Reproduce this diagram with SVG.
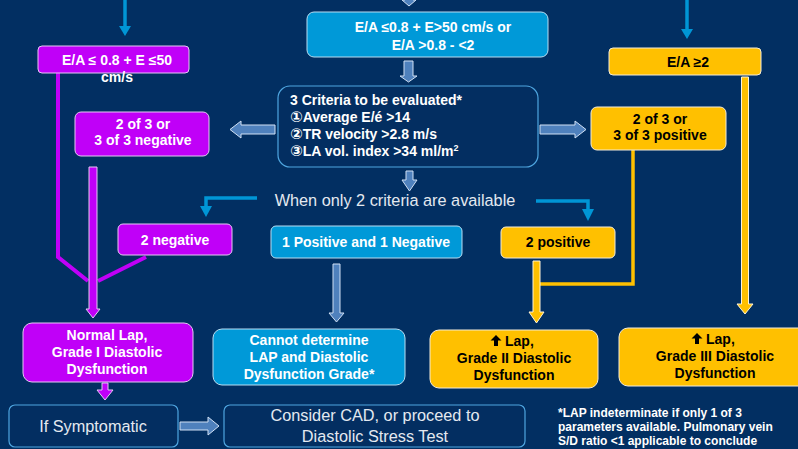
<svg xmlns="http://www.w3.org/2000/svg" width="798" height="449" viewBox="0 0 798 449">
<style>
text{font-family:"Liberation Sans","DejaVu Sans",Arial,sans-serif;}
.b{font-weight:bold;font-size:14px;}
.w{fill:#ffffff;}
.k{fill:#000000;}
.c{text-anchor:middle;}
.cn{font-family:"DejaVu Sans",sans-serif;font-size:15px;font-weight:bold;}
.pur{fill:#C000F8;stroke:#E6C8F4;stroke-width:1;}
.yel{fill:#FFC000;stroke:#F4ECD8;stroke-width:1;}
.blu{fill:#0099D8;stroke:#B8DDF2;stroke-width:1;}
.nav{fill:#032E61;stroke:#4FA6E0;stroke-width:1.2;}
.steel{fill:#4F81BD;stroke:#D0E0F4;stroke-width:1;}
.parr{fill:#C000F8;stroke:#E6C8F4;stroke-width:1;}
.yarr{fill:#FFC000;stroke:#FFF4D8;stroke-width:1;}
.pl{fill:none;stroke:#C000F8;stroke-width:4;}
.yl{fill:none;stroke:#FFC000;stroke-width:3.5;}
.bl{fill:none;stroke:#0096D6;stroke-width:3.5;}
.bh{fill:#0096D6;}
.lt{fill:#E4E9F0;font-size:16.3px;}
.fn{fill:#ffffff;font-weight:bold;font-size:12px;}
</style>
<rect x="0" y="0" width="798" height="449" fill="#022F62"/>

<g id="connectors">
  <line class="bl" x1="125" y1="0" x2="125" y2="27"/>
  <polygon class="bh" points="119,26 131,26 125,36"/>
  <line class="bl" x1="687" y1="0" x2="687" y2="30"/>
  <polygon class="bh" points="681,29 693,29 687,39"/>
  <polygon class="steel" points="405,-4 413,-4 413,0 416,0 409,6 402,0 405,0"/>
  <polygon class="steel" points="404,61 413,61 413,76 417,76 408.5,82 400,76 404,76"/>
  <polygon class="steel" points="275,125 241,125 241,121 230,129.5 241,138 241,134 275,134"/>
  <polygon class="steel" points="540,125 575,125 575,121 586,129.5 575,138 575,134 540,134"/>
  <polygon class="steel" points="406,171 413,171 413,180 417,180 409.5,191 402,180 406,180"/>
  <polyline class="bl" points="257,198 206,198 206,208"/>
  <polygon class="bh" points="200,206 212,206 206,217"/>
  <polyline class="bl" points="536,201 588,201 588,210"/>
  <polygon class="bh" points="582,209 594,209 588,221"/>
  <polyline class="pl" points="58,73 58,257 88,281"/>
  <line class="pl" x1="146" y1="257" x2="98" y2="281"/>
  <polygon class="parr" points="89,167 97,167 97,309 100,309 93,318 86,309 89,309"/>
  <polygon class="steel" points="333,264 340,264 340,313 344,313 336.5,322 329,313 333,313"/>
  <polyline class="yl" points="633,150 633,284 538,284"/>
  <polygon class="yarr" points="533,261 540,261 540,312 544,312 536.5,323 529,312 533,312"/>
  <polygon class="yarr" points="741.5,77 748.5,77 748.5,304 753,304 745,314 737,304 741.5,304"/>
  <polygon class="parr" points="102,383 108,383 108,390 113,390 105,400 97,390 102,390"/>
  <polygon class="steel" points="180,422 208,422 208,417 219,426 208,435 208,430 180,430"/>
</g>

<g id="n-ea-low">
  <rect class="pur" x="38" y="46" width="151" height="27" rx="4"/>
  <text class="b w c" x="117" y="65">E/A ≤ 0.8 + E ≤50</text>
  <text class="b w c" x="117" y="82">cm/s</text>
</g>

<g id="n-ea-mid">
  <rect class="blu" x="307" y="12" width="241" height="45" rx="7"/>
  <text class="b w c" x="433" y="32">E/A ≤0.8 + E&gt;50 cm/s or</text>
  <text class="b w c" x="433" y="50">E/A &gt;0.8 - &lt;2</text>
</g>

<g id="n-ea-high">
  <rect class="yel" x="609" y="48" width="152" height="27" rx="4"/>
  <text class="b k c" x="688" y="67">E/A ≥2</text>
</g>

<g id="n-criteria">
  <rect class="nav" x="278" y="86" width="260" height="81" rx="12"/>
  <text class="b w" x="290" y="105">3 Criteria to be evaluated*</text>
  <text class="b w" x="290" y="122"><tspan class="cn">①</tspan>Average E/é &gt;14</text>
  <text class="b w" x="290" y="139"><tspan class="cn">②</tspan>TR velocity &gt;2.8 m/s</text>
  <text class="b w" x="290" y="156"><tspan class="cn">③</tspan>LA vol. index &gt;34 ml/m<tspan font-size="9" dy="-5">2</tspan></text>
</g>

<g id="n-neg">
  <rect class="pur" x="75" y="112" width="134" height="44" rx="6"/>
  <text class="b w c" x="143" y="129">2 of 3 or</text>
  <text class="b w c" x="143" y="145">3 of 3 negative</text>
</g>

<g id="n-pos">
  <rect class="yel" x="591" y="107" width="135" height="43" rx="6"/>
  <text class="b k c" x="660" y="124">2 of 3 or</text>
  <text class="b k c" x="660" y="140">3 of 3 positive</text>
</g>

<g id="n-when">
  <text class="lt c" x="395" y="206">When only 2 criteria are available</text>
</g>

<g id="n-2neg">
  <rect class="pur" x="118" y="224" width="114" height="31" rx="5"/>
  <text class="b w c" x="175" y="245">2 negative</text>
</g>

<g id="n-1p1n">
  <rect class="blu" x="271" y="226" width="191" height="32" rx="5"/>
  <text class="b w c" x="366" y="247">1 Positive and 1 Negative</text>
</g>

<g id="n-2pos">
  <rect class="yel" x="501" y="227" width="114" height="31" rx="5"/>
  <text class="b k c" x="558" y="247">2 positive</text>
</g>

<g id="n-normal">
  <rect class="pur" x="23" y="323" width="170" height="59" rx="9"/>
  <text class="b w c" x="107" y="340">Normal Lap,</text>
  <text class="b w c" x="107" y="357">Grade I Diastolic</text>
  <text class="b w c" x="107" y="374">Dysfunction</text>
</g>

<g id="n-cannot">
  <rect class="blu" x="213" y="329" width="192" height="56" rx="9"/>
  <text class="b w c" x="309" y="345">Cannot determine</text>
  <text class="b w c" x="309" y="362">LAP and Diastolic</text>
  <text class="b w c" x="309" y="379">Dysfunction Grade*</text>
</g>

<g id="n-grade2">
  <rect class="yel" x="430" y="330" width="168" height="58" rx="9"/>
  <polygon class="k" points="496,335 490.5,340.5 494,340.5 494,346 498,346 498,340.5 501.5,340.5"/>
  <text class="b k" x="505" y="346">Lap,</text>
  <text class="b k c" x="514" y="363">Grade II Diastolic</text>
  <text class="b k c" x="514" y="380">Dysfunction</text>
</g>

<g id="n-grade3">
  <rect class="yel" x="619" y="328" width="190" height="58" rx="9"/>
  <polygon class="k" points="697,333 691.5,338.5 695,338.5 695,344 699,344 699,338.5 702.5,338.5"/>
  <text class="b k" x="706" y="344">Lap,</text>
  <text class="b k c" x="715" y="361">Grade III Diastolic</text>
  <text class="b k c" x="715" y="378">Dysfunction</text>
</g>

<g id="n-symptomatic">
  <rect class="nav" x="9" y="405" width="169" height="42" rx="6"/>
  <text class="lt c" x="93" y="432" font-size="16.5">If Symptomatic</text>
</g>

<g id="n-consider">
  <rect class="nav" x="224" y="405" width="301" height="42" rx="6"/>
  <text class="lt c" x="375" y="421">Consider CAD, or proceed to</text>
  <text class="lt c" x="375" y="442">Diastolic Stress Test</text>
</g>

<g id="n-footnote">
  <text class="fn" x="558" y="417">*LAP indeterminate if only 1 of 3</text>
  <text class="fn" x="558" y="431">parameters available. Pulmonary vein</text>
  <text class="fn" x="558" y="445">S/D ratio &lt;1 applicable to conclude</text>
</g>
</svg>
